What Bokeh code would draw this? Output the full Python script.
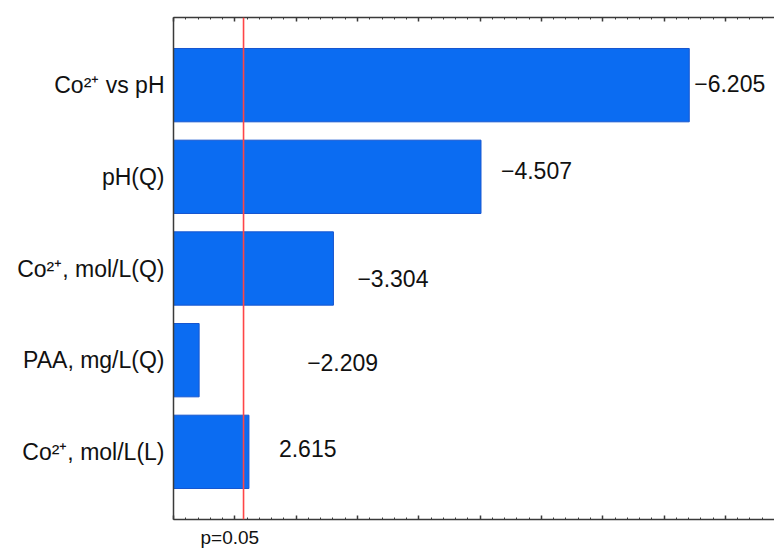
from bokeh.plotting import figure
from bokeh.models import (ColumnDataSource, Range1d, LinearAxis, FixedTicker,
                          SingleIntervalTicker, Span, Title)
from bokeh.core.properties import value
from bokeh.embed import file_html
from bokeh.resources import INLINE

# Standardized effects (Pareto chart), largest first
terms = ["Co²⁺ vs pH", "pH(Q)", "Co²⁺, mol/L(Q)", "PAA, mg/L(Q)", "Co²⁺, mol/L(L)"]
effects = [-6.205, -4.507, -3.304, -2.209, 2.615]

# critical |t| for p = 0.05
p_crit = 2.571
p_label = "p=0.05"

# axis extent
axis_start = 2.0
axis_end = 6.90

# label nudges (px) so value labels clear the bars and the significance line
label_dx = [5, 20, 24, 108, 30]
label_dy = [-1.5, -6.5, 9.5, 2, -3.5]

FONT = "Liberation Sans"
BAR_FILL = "#0b6cf2"
BAR_LINE = "#1656cf"
AXIS_COLOR = "#3a3a3a"

n = len(terms)
pad = 0.738
src = ColumnDataSource(dict(
    y=list(range(n)),
    mag=[abs(v) for v in effects],
    label=[f"{v:.3f}".replace("-", "\u2212") for v in effects],
    dx=label_dx,
    dy=label_dy,
))

p = figure(width=774, height=554, output_backend="svg", toolbar_location=None,
           x_range=Range1d(axis_start, axis_end),
           y_range=Range1d(n - 1 + pad, -pad),
           min_border_left=173, min_border_right=0,
           min_border_top=17, min_border_bottom=35)
p.outline_line_color = None
p.grid.visible = False
p.background_fill_color = "white"
p.border_fill_color = "white"

# bars
p.hbar(y="y", left=axis_start, right="mag", height=0.8, source=src,
       fill_color=BAR_FILL, line_color=BAR_LINE, line_width=1)

# value labels
p.text(x="mag", y="y", text="label", x_offset="dx", y_offset="dy", source=src,
       text_font=value(FONT), text_font_size="23px", text_color="#111111",
       text_align="left", text_baseline="middle")

# significance threshold
p.add_layout(Span(location=p_crit, dimension="height", line_color="#ff4646",
                  line_width=1.6))

# y axis with term names
yax = p.yaxis[0]
yax.ticker = FixedTicker(ticks=list(range(n)))
yax.major_label_overrides = {i: t for i, t in enumerate(terms)}
yax.major_tick_line_color = None
yax.minor_tick_line_color = None
yax.major_tick_out = 0
yax.minor_tick_out = 0
yax.major_label_text_font = FONT
yax.major_label_text_font_size = "23px"
yax.major_label_text_color = "#111111"
yax.major_label_standoff = 9
yax.axis_line_color = AXIS_COLOR
yax.axis_line_width = 1.5


def style_x(ax):
    ax.ticker = SingleIntervalTicker(interval=0.5, num_minor_ticks=5)
    ax.major_tick_in = 4
    ax.major_tick_out = 0
    ax.minor_tick_in = 2
    ax.minor_tick_out = 0
    ax.major_tick_line_color = AXIS_COLOR
    ax.minor_tick_line_color = AXIS_COLOR
    ax.major_tick_line_width = 1.5
    ax.axis_line_color = AXIS_COLOR
    ax.axis_line_width = 1.5
    ax.major_label_text_color = None
    ax.major_label_text_font_size = "0px"
    ax.major_label_standoff = 0


style_x(p.xaxis[0])
top = LinearAxis()
style_x(top)
p.add_layout(top, "above")

# caption for the threshold line, under the axis
p.add_layout(Title(text=p_label, align="left", offset=27, standoff=10,
                   text_font=FONT, text_font_size="19px", text_line_height=1.0,
                   text_font_style="normal", text_color="#111111"), "below")

open("out.html", "w").write(file_html(p, INLINE))
